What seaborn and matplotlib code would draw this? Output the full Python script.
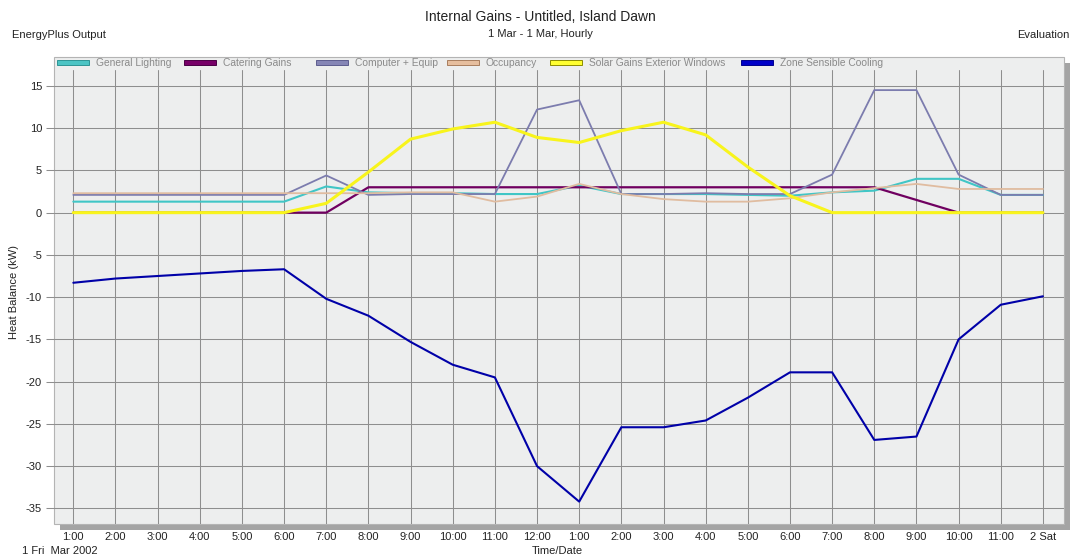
import matplotlib
matplotlib.use("Agg")
import matplotlib.pyplot as plt
from matplotlib.patches import Patch, Rectangle
import seaborn as sns
import pandas as pd

# Hourly heat balance components for 1 March (kW)
hours = list(range(1, 25))
tick_labels = ["1:00", "2:00", "3:00", "4:00", "5:00", "6:00", "7:00", "8:00",
               "9:00", "10:00", "11:00", "12:00", "1:00", "2:00", "3:00", "4:00",
               "5:00", "6:00", "7:00", "8:00", "9:00", "10:00", "11:00", "2 Sat"]

general_lighting = [1.3, 1.3, 1.3, 1.3, 1.3, 1.3, 3.1, 2.4, 2.3, 2.3, 2.2, 2.2,
                    3.2, 2.2, 2.2, 2.2, 2.1, 2.0, 2.4, 2.6, 4.0, 4.0, 2.1, 2.1]
catering_gains = [0.0, 0.0, 0.0, 0.0, 0.0, 0.0, 0.0, 3.0, 3.0, 3.0, 3.0, 3.0,
                  3.0, 3.0, 3.0, 3.0, 3.0, 3.0, 3.0, 3.0, 1.5, 0.0, 0.0, 0.0]
computer_equip = [2.1, 2.1, 2.1, 2.1, 2.1, 2.1, 4.4, 2.1, 2.2, 2.2, 2.2, 12.2,
                  13.3, 2.2, 2.2, 2.3, 2.2, 2.2, 4.5, 14.5, 14.5, 4.5, 2.1, 2.1]
occupancy = [2.3, 2.3, 2.3, 2.3, 2.3, 2.3, 2.3, 2.3, 2.4, 2.4, 1.3, 1.9,
             3.4, 2.2, 1.6, 1.3, 1.3, 1.7, 2.4, 2.9, 3.4, 2.8, 2.8, 2.8]
solar_gains = [0.0, 0.0, 0.0, 0.0, 0.0, 0.0, 1.1, 4.8, 8.7, 9.9, 10.7, 8.9,
               8.3, 9.7, 10.7, 9.2, 5.4, 2.0, 0.0, 0.0, 0.0, 0.0, 0.0, 0.0]
zone_cooling = [-8.3, -7.8, -7.5, -7.2, -6.9, -6.7, -10.2, -12.2, -15.3, -18.0, -19.5, -30.0,
                -34.2, -25.4, -25.4, -24.6, -21.9, -18.9, -18.9, -26.9, -26.5, -15.0, -10.9, -9.9]

series_names = ["General Lighting", "Catering Gains", "Computer + Equip",
                "Occupancy", "Solar Gains Exterior Windows", "Zone Sensible Cooling"]
series_values = [general_lighting, catering_gains, computer_equip,
                 occupancy, solar_gains, zone_cooling]

# line colour, line width (pt), legend swatch face/edge
styles = {
    "General Lighting": ("#40C6C6", 1.5, "#4CC4C4", "#2E9494"),
    "Catering Gains": ("#700060", 1.6, "#780068", "#4A0044"),
    "Computer + Equip": ("#7C7CAE", 1.3, "#8686B6", "#5E5E8E"),
    "Occupancy": ("#E0BCA0", 1.3, "#E6BE9E", "#A87E5E"),
    "Solar Gains Exterior Windows": ("#F8F41C", 2.2, "#FFFF30", "#8C8C00"),
    "Zone Sensible Cooling": ("#0000A8", 1.5, "#0000C8", "#00008C"),
}
# left edge (px) of each legend swatch along the top strip
legend_x = [56.5, 183.5, 315.5, 446.5, 549.5, 740.5]

df = pd.DataFrame({"hour": hours})
for name, vals in zip(series_names, series_values):
    df[name] = vals
long_df = df.melt(id_vars="hour", var_name="series", value_name="kW")

sns.set_style("white")
plt.rcParams["font.family"] = ["Liberation Sans", "DejaVu Sans"]
plt.rcParams["axes.unicode_minus"] = False

W, H = 1075, 560
fig = plt.figure(figsize=(W / 100, H / 100), dpi=100)
fig.patch.set_facecolor("white")

def fx(px):
    return px / W

def fy(py):
    return 1 - py / H

# panel with drop shadow
pl, pr, pt, pb = 53.5, 1064.0, 56.7, 523.5
shadow = Rectangle((fx(pl + 6), fy(pb + 6)), fx(pr - pl), (pb - pt) / H,
                   transform=fig.transFigure, facecolor="#A4A4A4", edgecolor="none", zorder=-3)
panel = Rectangle((fx(pl), fy(pb)), fx(pr - pl), (pb - pt) / H,
                  transform=fig.transFigure, facecolor="#EDEEEE", edgecolor="#B4B4B4",
                  lw=0.8, zorder=-2)
fig.patches.extend([shadow, panel])

ax_top = 70.0
ax = fig.add_axes([fx(pl), fy(pb), fx(pr - pl), (pb - ax_top) / H])
ax.set_facecolor("none")
ax.set_zorder(1)

for name in series_names:
    color, lw, _, _ = styles[name]
    sns.lineplot(data=long_df[long_df["series"] == name], x="hour", y="kW",
                 color=color, lw=lw, ax=ax, legend=False, zorder=3)

ax.set_xlim(0.53, 24.5)
ax.set_ylim(-36.79, 16.88)
ax.set_xticks(hours)
ax.set_xticklabels(tick_labels)
ax.set_yticks(range(-35, 20, 5))
ax.grid(True, color="#8E8E8E", lw=0.75)
ax.set_axisbelow(True)
for s in ax.spines.values():
    s.set_visible(False)
ax.tick_params(axis="x", length=0, pad=6, labelsize=8, labelcolor="#222222")
ax.tick_params(axis="y", length=5.8, width=0.75, color="#8E8E8E", pad=2.5,
               labelsize=8, labelcolor="#222222", left=True)
ax.set_xlabel("")
ax.set_ylabel("")

# legend strip along the top of the panel, one entry per series
for name, x0 in zip(series_names, legend_x):
    handle = Patch(facecolor=styles[name][2], edgecolor=styles[name][3], lw=0.7)
    leg = fig.legend([handle], [name], loc="center left", bbox_to_anchor=(fx(x0), fy(63.5)),
                     frameon=False, fontsize=7.4, labelcolor="#8A8A8A",
                     handlelength=3.2, handleheight=0.38, handletextpad=0.6,
                     borderpad=0, borderaxespad=0)

# header and footer texts
fig.text(fx(540), fy(16.7), "Internal Gains - Untitled, Island Dawn",
         ha="center", va="center", fontsize=10, color="#222222")
fig.text(fx(11.5), fy(35), "EnergyPlus Output", ha="left", va="center",
         fontsize=8, color="#222222")
fig.text(fx(540), fy(34), "1 Mar - 1 Mar, Hourly", ha="center", va="center",
         fontsize=8, color="#222222")
fig.text(fx(1070), fy(35), "Evaluation", ha="right", va="center",
         fontsize=8, color="#222222")
fig.text(fx(14), fy(292), "Heat Balance (kW)", rotation=90, ha="center", va="center",
         fontsize=8, color="#222222")
fig.text(fx(557), fy(551.5), "Time/Date", ha="center", va="center",
         fontsize=8, color="#222222")
fig.text(fx(21.5), fy(551.5), "1 Fri  Mar 2002", ha="left", va="center",
         fontsize=8, color="#222222")

fig.savefig("out.png", dpi=100)
